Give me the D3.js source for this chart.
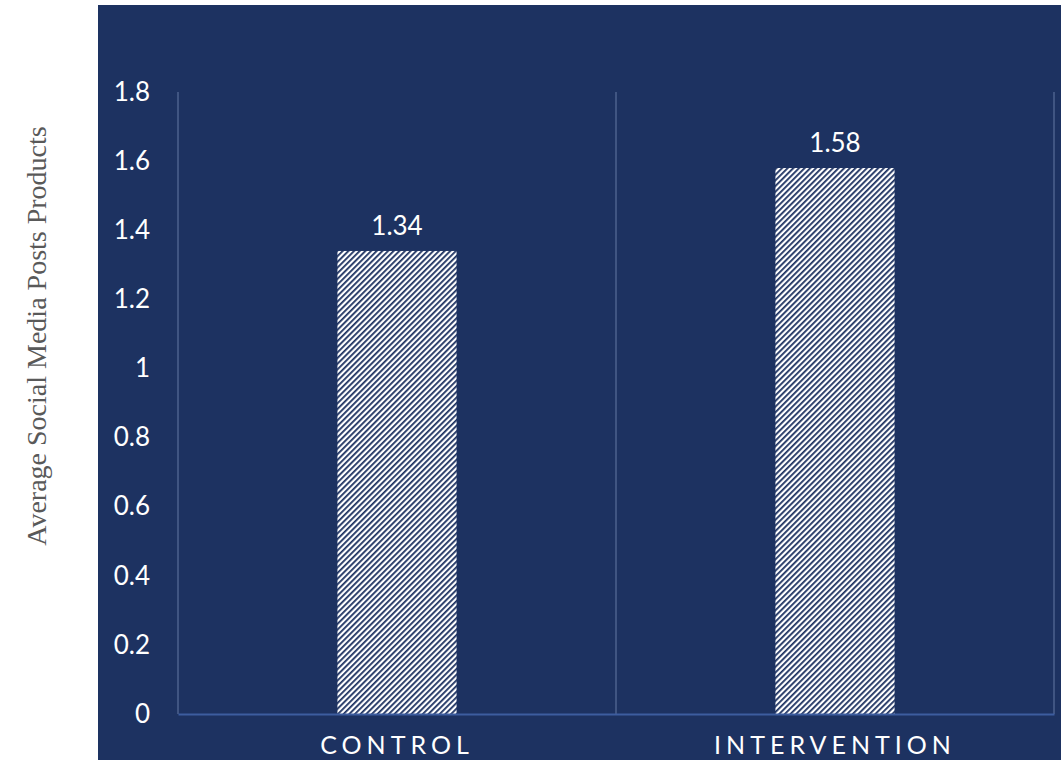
<!DOCTYPE html>
<html>
<head>
<meta charset="utf-8">
<script src="https://cdn.jsdelivr.net/npm/d3@7"></script>
<style>
  body { margin: 0; background: #fff; }
  svg { display: block; }
</style>
</head>
<body>
<div id="chart"></div>
<script>
var categories = ["CONTROL", "INTERVENTION"];
var values = [1.34, 1.58];
var yTicks = [0, 0.2, 0.4, 0.6, 0.8, 1, 1.2, 1.4, 1.6, 1.8];
var yTickLabels = ["0", "0.2", "0.4", "0.6", "0.8", "1", "1.2", "1.4", "1.6", "1.8"];
var yLabel = "Average Social Media Posts Products";

var W = 1061, H = 760;
var margin = {top: 92, right: 7, bottom: 46, left: 178};
var width = W - margin.left - margin.right,
    height = H - margin.top - margin.bottom;

var svg = d3.select("#chart").append("svg")
  .attr("width", W).attr("height", H);

// hatch pattern for the bars
var defs = svg.append("defs");
var pat = defs.append("pattern")
  .attr("id", "hatch")
  .attr("patternUnits", "userSpaceOnUse")
  .attr("width", 4).attr("height", 4)
  .attr("patternTransform", "rotate(45)");
pat.append("rect").attr("width", 4).attr("height", 4).attr("fill", "#fff");
pat.append("rect").attr("x", 0).attr("width", 1.8).attr("height", 4).attr("fill", "#1d3261");

// navy panel
svg.append("rect")
  .attr("x", 98).attr("y", 5)
  .attr("width", W - 98).attr("height", H - 5)
  .attr("fill", "#1d3261");

var chart = svg.append("g")
  .attr("transform", "translate(" + margin.left + "," + margin.top + ")");

var x = d3.scaleBand().domain(categories).range([0, width]).paddingInner(0).paddingOuter(0);
var y = d3.scaleLinear().domain([0, 1.8]).range([height, 0]);

// vertical category separators
var seps = [0].concat(categories.map(function(c) { return x(c) + x.bandwidth(); }));
chart.selectAll(".sep")
  .data(seps)
  .enter().append("line")
  .attr("x1", function(d) { return d; })
  .attr("x2", function(d) { return d; })
  .attr("y1", 0).attr("y2", height)
  .attr("stroke", "#4d628e").attr("stroke-width", 1.5);

var barW = x.bandwidth() * 0.272;
chart.selectAll(".bar")
  .data(values)
  .enter().append("rect")
  .attr("x", function(d, i) { return x(categories[i]) + x.bandwidth() / 2 - barW / 2; })
  .attr("y", function(d) { return y(d); })
  .attr("width", barW)
  .attr("height", function(d) { return height - y(d); })
  .attr("fill", "url(#hatch)");

// value labels
chart.selectAll(".val")
  .data(values)
  .enter().append("text")
  .attr("x", function(d, i) { return x(categories[i]) + x.bandwidth() / 2; })
  .attr("y", function(d) { return y(d) - 16; })
  .attr("text-anchor", "middle")
  .attr("fill", "#fff")
  .style("font-family", "Lato, 'Open Sans', sans-serif")
  .style("font-size", "26px")
  .text(function(d) { return d.toFixed(2); });

// y axis ticks
var leftAxis = d3.axisLeft(y)
  .tickValues(yTicks)
  .tickSize(0)
  .tickPadding(28)
  .tickFormat(function(d, i) { return yTickLabels[i]; });
var ya = chart.append("g").call(leftAxis);
ya.select(".domain").remove();
ya.selectAll("text")
  .attr("fill", "#fff")
  .style("font-family", "Lato, 'Open Sans', sans-serif")
  .style("font-size", "26px");

// x axis
var bottomAxis = d3.axisBottom(x).tickSize(0).tickPadding(22);
var xa = chart.append("g")
  .attr("transform", "translate(0," + height + ")")
  .call(bottomAxis);
xa.select(".domain").attr("stroke", "#3d5d9f").attr("stroke-width", 2);
xa.selectAll("text")
  .attr("fill", "#fff")
  .style("font-family", "Lato, 'Open Sans', sans-serif")
  .style("font-size", "25px")
  .style("letter-spacing", "5px");

// y axis title
svg.append("text")
  .attr("transform", "translate(46,336) rotate(-90)")
  .attr("text-anchor", "middle")
  .attr("fill", "#595959")
  .style("font-family", "'Liberation Serif', 'Times New Roman', serif")
  .style("font-size", "28px")
  .text(yLabel);
</script>
</body>
</html>
